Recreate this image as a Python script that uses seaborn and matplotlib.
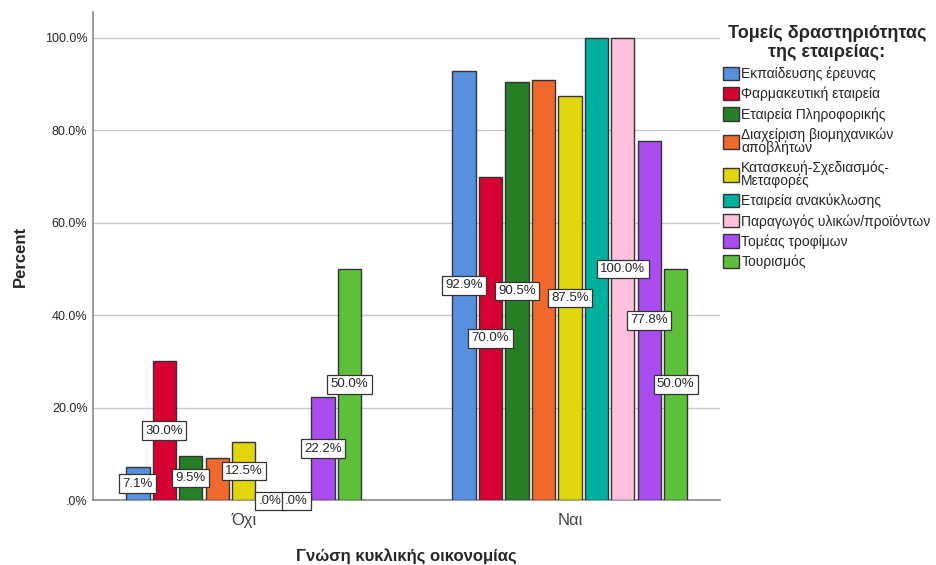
import numpy as np
import pandas as pd
import matplotlib
matplotlib.use('Agg')
import matplotlib.pyplot as plt
import seaborn as sns

knowledge = ['Όχι', 'Ναι']
sectors = ['Εκπαίδευσης έρευνας', 'Φαρμακευτική εταιρεία', 'Εταιρεία Πληροφορικής',
           'Διαχείριση βιομηχανικών\nαποβλήτων', 'Κατασκευή-Σχεδιασμός-\nΜεταφορές',
           'Εταιρεία ανακύκλωσης', 'Παραγωγός υλικών/προϊόντων', 'Τομέας τροφίμων', 'Τουρισμός']
no_pct = [7.1, 30.0, 9.5, 9.1, 12.5, 0.0, 0.0, 22.2, 50.0]
yes_pct = [92.9, 70.0, 90.5, 90.9, 87.5, 100.0, 100.0, 77.8, 50.0]
# labels shown on the chart (some hidden in the original)
no_labels = ['7.1%', '30.0%', '9.5%', '', '12.5%', '.0%', '.0%', '22.2%', '50.0%']
yes_labels = ['92.9%', '70.0%', '90.5%', '', '87.5%', '', '100.0%', '77.8%', '50.0%']

colors = ['#5591e0', '#d60032', '#267f27', '#f1682c', '#e1d50b',
          '#00b09f', '#ffc0de', '#a94cf0', '#5ec03a']

df = pd.DataFrame({
    'knowledge': [knowledge[0]] * len(sectors) + [knowledge[1]] * len(sectors),
    'sector': sectors + sectors,
    'pct': no_pct + yes_pct,
})

sns.set_style('white')
plt.rcParams['font.family'] = ['Liberation Sans', 'DejaVu Sans']

fig = plt.figure(figsize=(9.37, 5.65), dpi=100)
ax = fig.add_axes([0.0993, 0.115, 0.669, 0.8637])

sns.barplot(data=df, x='knowledge', y='pct', hue='sector', hue_order=sectors,
            order=knowledge, palette=colors, saturation=1, width=0.73, gap=0.12,
            edgecolor='#333333', linewidth=1.0, ax=ax, legend=False, zorder=3)

ax.set_ylim(0, 105.6)
ax.set_xlim(-0.462, 1.46)
ax.set_yticks([0, 20, 40, 60, 80, 100])
ax.set_yticklabels(['.0%', '20.0%', '40.0%', '60.0%', '80.0%', '100.0%'], fontsize=9)
ax.tick_params(axis='x', labelsize=12, colors='#444444', length=0, pad=9)
ax.tick_params(axis='y', length=0, pad=4)
ax.yaxis.grid(True, color='#c8c8c8', linewidth=1, zorder=0)
ax.set_axisbelow(True)
for s in ['top', 'right']:
    ax.spines[s].set_visible(False)
for s in ['left', 'bottom']:
    ax.spines[s].set_color('#8a8a8a')
    ax.spines[s].set_linewidth(1.2)

ax.set_ylabel('Percent', fontsize=12, fontweight='bold', labelpad=12)
ax.set_xlabel('Γνώση κυκλικής οικονομίας', fontsize=12, fontweight='bold', labelpad=15)

# value labels at bar midpoints
for i, cont in enumerate(ax.containers):
    for j, bar in enumerate(cont):
        txt = [no_labels, yes_labels][j][i]
        if not txt:
            continue
        x = bar.get_x() + bar.get_width() / 2
        y = bar.get_height() / 2
        if bar.get_height() == 0:
            y = -0.2
        ax.text(x, y, txt, ha='center', va='center', fontsize=9.5, zorder=5,
                bbox=dict(boxstyle='square,pad=0.25', fc='white', ec='#333333', lw=0.9),
                clip_on=False)

handles = [plt.Rectangle((0, 0), 1, 1, fc=c, ec='#333333', lw=1.0) for c in colors]
leg = fig.legend(handles, sectors, loc='upper left', bbox_to_anchor=(0.766, 0.965),
                 frameon=False, fontsize=10, title='Τομείς δραστηριότητας\nτης εταιρείας:',
                 title_fontproperties={'weight': 'bold', 'size': 13},
                 handlelength=1.1, handleheight=1.1, handletextpad=0.2,
                 labelspacing=0.42, borderaxespad=0)
leg._legend_box.align = 'center'
for t in leg.get_texts():
    t.set_linespacing(0.85)
leg.get_title().set_multialignment('center')
leg.get_title().set_linespacing(1.1)

fig.savefig('out.png', dpi=100)
